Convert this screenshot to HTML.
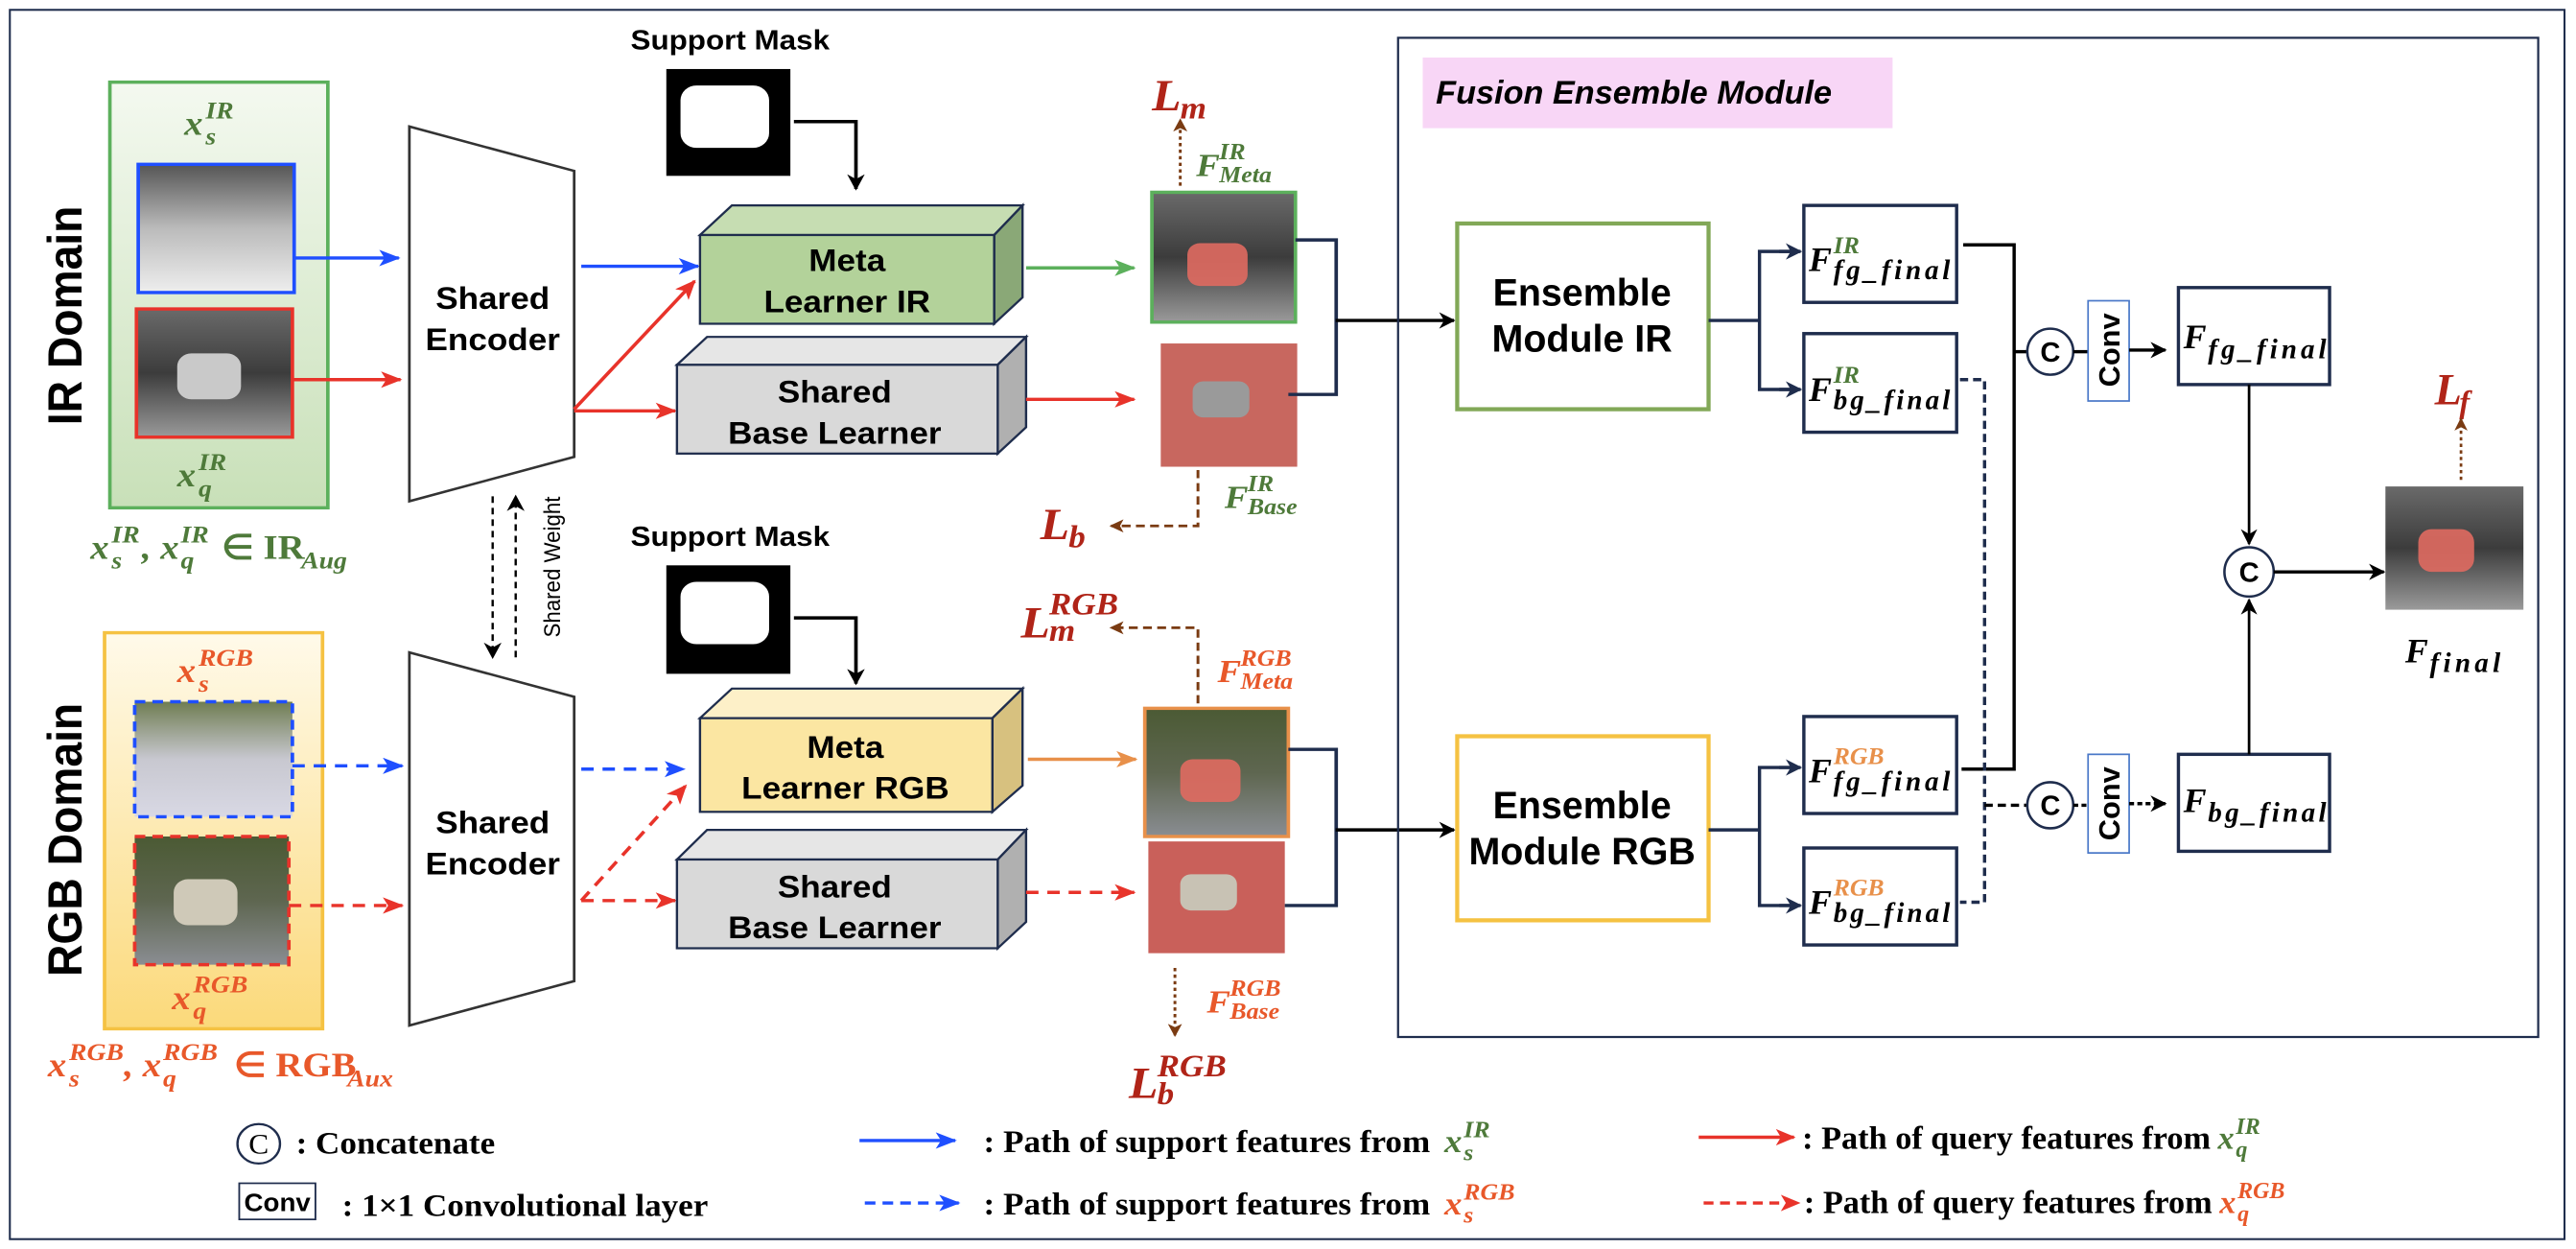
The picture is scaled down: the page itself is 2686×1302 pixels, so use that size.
<!DOCTYPE html>
<html><head><meta charset="utf-8"><style>html,body{margin:0;padding:0;background:#fff}svg{display:block}</style></head>
<body>
<svg xmlns="http://www.w3.org/2000/svg" width="2686" height="1302" viewBox="0 0 1568 760" preserveAspectRatio="none">
<defs>
<linearGradient id="gIR" x1="0" y1="0" x2="0" y2="1"><stop offset="0" stop-color="#f4f9f0"/><stop offset="1" stop-color="#c8e0b8"/></linearGradient>
<linearGradient id="gRGB" x1="0" y1="0" x2="0" y2="1"><stop offset="0" stop-color="#fffaea"/><stop offset="1" stop-color="#fbd97a"/></linearGradient>
<linearGradient id="imIR" x1="0" y1="0" x2="0" y2="1"><stop offset="0" stop-color="#6a6a6a"/><stop offset="0.5" stop-color="#3c3c3c"/><stop offset="1" stop-color="#9a9a9a"/></linearGradient>
<linearGradient id="imIRs" x1="0" y1="0" x2="0" y2="1"><stop offset="0" stop-color="#555"/><stop offset="0.5" stop-color="#bbb"/><stop offset="1" stop-color="#eee"/></linearGradient>
<linearGradient id="imRGB" x1="0" y1="0" x2="0" y2="1"><stop offset="0" stop-color="#4b5a34"/><stop offset="0.5" stop-color="#5e6650"/><stop offset="1" stop-color="#8a8d92"/></linearGradient>
<linearGradient id="imRGBs" x1="0" y1="0" x2="0" y2="1"><stop offset="0" stop-color="#6f7d52"/><stop offset="0.5" stop-color="#c8c8d0"/><stop offset="1" stop-color="#d8d8e4"/></linearGradient>
<marker id="aBk" markerWidth="10" markerHeight="10" refX="9" refY="5" orient="auto" markerUnits="userSpaceOnUse"><path d="M0,0 L10,5 L0,10 L3,5z" fill="#000"/></marker>
<marker id="aNv" markerWidth="10" markerHeight="10" refX="9" refY="5" orient="auto" markerUnits="userSpaceOnUse"><path d="M0,0 L10,5 L0,10 L3,5z" fill="#1f2d4d"/></marker>
<marker id="aBl" markerWidth="12" markerHeight="10" refX="11" refY="5" orient="auto" markerUnits="userSpaceOnUse"><path d="M0,0 L12,5 L0,10 L3,5z" fill="#1f4fff"/></marker>
<marker id="aRd" markerWidth="12" markerHeight="10" refX="11" refY="5" orient="auto" markerUnits="userSpaceOnUse"><path d="M0,0 L12,5 L0,10 L3,5z" fill="#e8332a"/></marker>
<marker id="aGr" markerWidth="12" markerHeight="10" refX="11" refY="5" orient="auto" markerUnits="userSpaceOnUse"><path d="M0,0 L12,5 L0,10 L3,5z" fill="#5cb05c"/></marker>
<marker id="aOr" markerWidth="12" markerHeight="10" refX="11" refY="5" orient="auto" markerUnits="userSpaceOnUse"><path d="M0,0 L12,5 L0,10 L3,5z" fill="#e8904a"/></marker>
<marker id="aBr" markerWidth="8" markerHeight="8" refX="7" refY="4" orient="auto" markerUnits="userSpaceOnUse"><path d="M0,0 L8,4 L0,8 L2,4z" fill="#7a3b12"/></marker>
</defs>
<rect x="0" y="0" width="1568" height="760" fill="#fff"/>
<rect x="6" y="6" width="1555" height="748" fill="none" stroke="#1f2d4d" stroke-width="1.2"/>

<g transform="scale(1.0787 1)">
<g font-family="Liberation Sans, sans-serif" font-weight="bold">
<text transform="translate(46,192) rotate(-90)" font-size="27" text-anchor="middle">IR Domain</text>
<text transform="translate(46,511) rotate(-90)" font-size="27" text-anchor="middle">RGB Domain</text>
</g>

<rect x="62" y="50" width="123" height="259" fill="url(#gIR)" stroke="#5cb05c" stroke-width="2"/>
<rect x="78" y="100" width="88" height="78" fill="url(#imIRs)" stroke="#1f4fff" stroke-width="2"/>
<rect x="77" y="188" width="88" height="78" fill="url(#imIR)" stroke="#e8332a" stroke-width="2"/>
<rect x="100" y="215" width="36" height="28" rx="8" fill="#c9c9c9"/>
<rect x="59" y="385" width="123" height="241" fill="url(#gRGB)" stroke="#f5c242" stroke-width="2"/>
<rect x="76" y="427" width="89" height="70" fill="url(#imRGBs)" stroke="#1f4fff" stroke-width="2" stroke-dasharray="6,4"/>
<rect x="76" y="509" width="87" height="78" fill="url(#imRGB)" stroke="#e8332a" stroke-width="2" stroke-dasharray="6,4"/>
<rect x="98" y="535" width="36" height="28" rx="8" fill="#cfc9b8"/>

<g font-family="Liberation Serif, serif" font-weight="bold" font-style="italic">
<g fill="#4e7a3a">
<text x="104" y="82" font-size="21">x</text><text x="116" y="72" font-size="15">IR</text><text x="116" y="88" font-size="15">s</text>
<text x="100" y="296" font-size="21">x</text><text x="112" y="286" font-size="15">IR</text><text x="112" y="302" font-size="15">q</text>
<text x="51" y="340" font-size="21">x</text><text x="63" y="330" font-size="15">IR</text><text x="63" y="346" font-size="15">s</text>
<text x="80" y="340" font-size="21">, x</text><text x="102" y="330" font-size="15">IR</text><text x="102" y="346" font-size="15">q</text>
<text x="125" y="340" font-size="21" font-style="normal">∈ IR</text><text x="170" y="346" font-size="15">Aug</text>
</g>
<g fill="#e8582a">
<text x="100" y="415" font-size="21">x</text><text x="112" y="405" font-size="15">RGB</text><text x="112" y="421" font-size="15">s</text>
<text x="97" y="614" font-size="21">x</text><text x="109" y="604" font-size="15">RGB</text><text x="109" y="620" font-size="15">q</text>
<text x="27" y="655" font-size="21">x</text><text x="39" y="645" font-size="15">RGB</text><text x="39" y="661" font-size="15">s</text>
<text x="70" y="655" font-size="21">, x</text><text x="92" y="645" font-size="15">RGB</text><text x="92" y="661" font-size="15">q</text>
<text x="132" y="655" font-size="21" font-style="normal">∈ RGB</text><text x="196" y="661" font-size="15">Aux</text>
</g>
</g>

<polygon points="231,77 324,104 324,278 231,305" fill="#fff" stroke="#333" stroke-width="1.5"/>
<polygon points="231,397 324,424 324,597 231,624" fill="#fff" stroke="#333" stroke-width="1.5"/>
<g font-family="Liberation Sans, sans-serif" font-weight="bold" font-size="19" text-anchor="middle">
<text x="278" y="188">Shared</text><text x="278" y="213">Encoder</text>
<text x="278" y="507">Shared</text><text x="278" y="532">Encoder</text>
</g>
<line x1="278" y1="302" x2="278" y2="400" stroke="#000" stroke-width="1.3" stroke-dasharray="4,3" marker-end="url(#aBk)"/>
<line x1="291" y1="400" x2="291" y2="302" stroke="#000" stroke-width="1.3" stroke-dasharray="4,3" marker-end="url(#aBk)"/>
<text transform="translate(316,345) rotate(-90)" font-family="Liberation Sans, sans-serif" font-size="13" text-anchor="middle">Shared Weight</text>

<line x1="166" y1="157" x2="225" y2="157" stroke="#1f4fff" stroke-width="2" marker-end="url(#aBl)"/>
<line x1="165" y1="231" x2="226" y2="231" stroke="#e8332a" stroke-width="2" marker-end="url(#aRd)"/>
<line x1="165" y1="466" x2="227" y2="466" stroke="#1f4fff" stroke-width="2" stroke-dasharray="7,5" marker-end="url(#aBl)"/>
<line x1="163" y1="551" x2="227" y2="551" stroke="#e8332a" stroke-width="2" stroke-dasharray="7,5" marker-end="url(#aRd)"/>
<line x1="328" y1="162" x2="394" y2="162" stroke="#1f4fff" stroke-width="2" marker-end="url(#aBl)"/>
<line x1="324" y1="249" x2="392" y2="171" stroke="#e8332a" stroke-width="2" marker-end="url(#aRd)"/>
<line x1="324" y1="250" x2="381" y2="250" stroke="#e8332a" stroke-width="2" marker-end="url(#aRd)"/>
<line x1="328" y1="468" x2="386" y2="468" stroke="#1f4fff" stroke-width="2" stroke-dasharray="7,5" marker-end="url(#aBl)"/>
<line x1="328" y1="548" x2="387" y2="478" stroke="#e8332a" stroke-width="2" stroke-dasharray="7,5" marker-end="url(#aRd)"/>
<line x1="328" y1="548" x2="381" y2="548" stroke="#e8332a" stroke-width="2" stroke-dasharray="7,5" marker-end="url(#aRd)"/>

<g stroke="#1f2d4d" stroke-width="1.3">
<polygon points="395,143 413,125 577,125 561,143" fill="#c6ddb2"/>
<polygon points="561,143 577,125 577,181 561,197" fill="#8aa877"/>
<rect x="395" y="143" width="166" height="54" fill="#b3d29a"/>
<polygon points="382,222 399,205 579,205 563,222" fill="#e6e6e6"/>
<polygon points="563,222 579,205 579,260 563,276" fill="#b0b0b0"/>
<rect x="382" y="222" width="181" height="54" fill="#d9d9d9"/>
<polygon points="395,437 413,419 577,419 560,437" fill="#fdf0c8"/>
<polygon points="560,437 577,419 577,478 560,494" fill="#d7c17f"/>
<rect x="395" y="437" width="165" height="57" fill="#fbe6a2"/>
<polygon points="382,523 399,505 579,505 563,523" fill="#e6e6e6"/>
<polygon points="563,523 579,505 579,561 563,577" fill="#b0b0b0"/>
<rect x="382" y="523" width="181" height="54" fill="#d9d9d9"/>
</g>
<g font-family="Liberation Sans, sans-serif" font-weight="bold" font-size="19" text-anchor="middle">
<text x="478" y="165">Meta</text><text x="478" y="190">Learner IR</text>
<text x="471" y="245">Shared</text><text x="471" y="270">Base Learner</text>
<text x="477" y="461">Meta</text><text x="477" y="486">Learner RGB</text>
<text x="471" y="546">Shared</text><text x="471" y="571">Base Learner</text>
<text x="412" y="30" font-size="17">Support Mask</text>
<text x="412" y="332" font-size="17">Support Mask</text>
</g>
<rect x="376" y="42" width="70" height="65" fill="#000"/>
<rect x="384" y="52" width="50" height="38" rx="9" fill="#fff"/>
<rect x="376" y="344" width="70" height="66" fill="#000"/>
<rect x="384" y="354" width="50" height="38" rx="9" fill="#fff"/>
<polyline points="448,74 483,74 483,115" fill="none" stroke="#000" stroke-width="2" marker-end="url(#aBk)"/>
<polyline points="448,376 483,376 483,416" fill="none" stroke="#000" stroke-width="2" marker-end="url(#aBk)"/>

<line x1="579" y1="163" x2="640" y2="163" stroke="#5cb05c" stroke-width="2" marker-end="url(#aGr)"/>
<line x1="579" y1="243" x2="640" y2="243" stroke="#e8332a" stroke-width="2" marker-end="url(#aRd)"/>
<line x1="580" y1="462" x2="641" y2="462" stroke="#e8904a" stroke-width="2" marker-end="url(#aOr)"/>
<line x1="579" y1="543" x2="640" y2="543" stroke="#e8332a" stroke-width="2" stroke-dasharray="7,5" marker-end="url(#aRd)"/>

<rect x="650" y="117" width="81" height="79" fill="url(#imIR)" stroke="#5cb05c" stroke-width="2"/>
<rect x="670" y="148" width="34" height="26" rx="7" fill="#e06a60" opacity="0.9"/>
<rect x="655" y="209" width="77" height="75" fill="#c8675f"/>
<rect x="673" y="232" width="32" height="22" rx="6" fill="#9a9a9a"/>
<rect x="646" y="431" width="81" height="78" fill="url(#imRGB)" stroke="#e8904a" stroke-width="2"/>
<rect x="666" y="462" width="34" height="26" rx="7" fill="#e06a60" opacity="0.9"/>
<rect x="648" y="512" width="77" height="68" fill="#c9605a"/>
<rect x="666" y="532" width="32" height="22" rx="6" fill="#c8c2b4"/>

<g fill="none" stroke="#1f2d4d" stroke-width="2">
<polyline points="731,146 754,146 754,240 727,240"/>
<polyline points="727,456 754,456 754,551 725,551"/>
</g>

<g stroke="#7a3b12" stroke-width="1.6" fill="none">
<line x1="666" y1="113" x2="666" y2="73" stroke-dasharray="2,2" marker-end="url(#aBr)"/>
<polyline points="676,286 676,320 627,320" stroke-dasharray="5,3" marker-end="url(#aBr)"/>
<polyline points="676,428 676,382 627,382" stroke-dasharray="5,3" marker-end="url(#aBr)"/>
<line x1="663" y1="589" x2="663" y2="630" stroke-dasharray="2,2" marker-end="url(#aBr)"/>
</g>

<g font-family="Liberation Serif, serif" font-weight="bold" font-style="italic">
<g fill="#b02418">
<text x="650" y="67" font-size="27">L</text><text x="666" y="72" font-size="19">m</text>
<text x="587" y="328" font-size="27">L</text><text x="603" y="333" font-size="19">b</text>
<text x="576" y="388" font-size="27">L</text><text x="592" y="390" font-size="19">m</text><text x="592" y="374" font-size="19">RGB</text>
<text x="637" y="668" font-size="27">L</text><text x="653" y="672" font-size="19">b</text><text x="653" y="655" font-size="19">RGB</text>
</g>
<g fill="#4e7a3a">
<text x="675" y="107" font-size="20">F</text><text x="688" y="97" font-size="14">IR</text><text x="688" y="111" font-size="14">Meta</text>
<text x="691" y="309" font-size="20">F</text><text x="704" y="299" font-size="14">IR</text><text x="704" y="313" font-size="14">Base</text>
</g>
<g fill="#e8582a">
<text x="687" y="415" font-size="20">F</text><text x="700" y="405" font-size="14">RGB</text><text x="700" y="419" font-size="14">Meta</text>
<text x="681" y="616" font-size="20">F</text><text x="694" y="606" font-size="14">RGB</text><text x="694" y="620" font-size="14">Base</text>
</g>
</g>

<circle cx="146" cy="696" r="12" fill="#fff" stroke="#1f2d4d" stroke-width="1.3"/>
<text x="146" y="702" font-family="Liberation Serif, serif" font-size="17" text-anchor="middle">C</text>
<rect x="135" y="720" width="43" height="22" fill="#fff" stroke="#1f2d4d" stroke-width="1"/>
<text x="156.5" y="737" font-family="Liberation Sans, sans-serif" font-weight="bold" font-size="15" text-anchor="middle">Conv</text>
<g font-family="Liberation Serif, serif" font-weight="bold" font-size="19">
<text x="167" y="702">: Concatenate</text>
<text x="193" y="740">: 1×1 Convolutional layer</text>
<text x="555" y="701">: Path of support features from</text>
<text x="555" y="739">: Path of support features from</text>
</g>
<g font-family="Liberation Serif, serif" font-weight="bold" font-style="italic">
<g fill="#4e7a3a"><text x="815" y="701" font-size="20">x</text><text x="826" y="692" font-size="14">IR</text><text x="826" y="706" font-size="14">s</text></g>
<g fill="#e8582a"><text x="815" y="739" font-size="20">x</text><text x="826" y="730" font-size="14">RGB</text><text x="826" y="744" font-size="14">s</text></g>
</g>
<line x1="485" y1="694" x2="539" y2="694" stroke="#1f4fff" stroke-width="2" marker-end="url(#aBl)"/>
<line x1="488" y1="732" x2="541" y2="732" stroke="#1f4fff" stroke-width="2" stroke-dasharray="6,4" marker-end="url(#aBl)"/>
</g>

<line x1="813" y1="195" x2="885" y2="195" stroke="#000" stroke-width="2" marker-end="url(#aBk)"/>
<line x1="813" y1="505" x2="885" y2="505" stroke="#000" stroke-width="2" marker-end="url(#aBk)"/>

<rect x="851" y="23" width="694" height="608" fill="none" stroke="#1f2d4d" stroke-width="1.3"/>
<rect x="866" y="35" width="286" height="43" fill="#f8d6f6"/>
<text x="874" y="63" font-family="Liberation Sans, sans-serif" font-weight="bold" font-style="italic" font-size="20">Fusion Ensemble Module</text>
<rect x="887" y="136" width="153" height="113" fill="#fff" stroke="#82a857" stroke-width="2.5"/>
<rect x="887" y="448" width="153" height="112" fill="#fff" stroke="#f5c242" stroke-width="2.5"/>
<g font-family="Liberation Sans, sans-serif" font-weight="bold" font-size="23" text-anchor="middle">
<text x="963" y="186">Ensemble</text><text x="963" y="214">Module IR</text>
<text x="963" y="498">Ensemble</text><text x="963" y="526">Module RGB</text>
</g>
<g fill="none" stroke="#1f2d4d" stroke-width="2">
<line x1="1040" y1="195" x2="1071" y2="195"/>
<polyline points="1094,153 1071,153 1071,237 1094,237"/>
<line x1="1040" y1="505" x2="1071" y2="505"/>
<polyline points="1094,467 1071,467 1071,551 1094,551"/>
</g>
<g stroke="#1f2d4d" stroke-width="2">
<line x1="1083" y1="153" x2="1096" y2="153" marker-end="url(#aNv)"/>
<line x1="1083" y1="237" x2="1096" y2="237" marker-end="url(#aNv)"/>
<line x1="1083" y1="467" x2="1096" y2="467" marker-end="url(#aNv)"/>
<line x1="1083" y1="551" x2="1096" y2="551" marker-end="url(#aNv)"/>
</g>
<g fill="#fff" stroke="#1f2d4d" stroke-width="2">
<rect x="1098" y="125" width="93" height="59"/>
<rect x="1098" y="203" width="93" height="60"/>
<rect x="1098" y="436" width="93" height="59"/>
<rect x="1098" y="516" width="93" height="59"/>
<rect x="1326" y="175" width="92" height="59"/>
<rect x="1326" y="459" width="92" height="59"/>
</g>
<g font-family="Liberation Serif, serif" font-weight="bold" font-style="italic">
<text x="1101" y="165" font-size="21">F</text><text x="1116" y="154" font-size="15" fill="#4e7a3a">IR</text><text x="1116" y="170" font-size="17" textLength="71">fg_final</text>
<text x="1101" y="244" font-size="21">F</text><text x="1116" y="233" font-size="15" fill="#4e7a3a">IR</text><text x="1116" y="249" font-size="17" textLength="71">bg_final</text>
<text x="1101" y="476" font-size="21">F</text><text x="1116" y="465" font-size="15" fill="#e8904a">RGB</text><text x="1116" y="481" font-size="17" textLength="71">fg_final</text>
<text x="1101" y="556" font-size="21">F</text><text x="1116" y="545" font-size="15" fill="#e8904a">RGB</text><text x="1116" y="561" font-size="17" textLength="71">bg_final</text>
<text x="1329" y="212" font-size="21">F</text><text x="1344" y="218" font-size="17" textLength="72">fg_final</text>
<text x="1329" y="494" font-size="21">F</text><text x="1344" y="500" font-size="17" textLength="72">bg_final</text>
<text x="1464" y="403" font-size="21">F</text><text x="1479" y="409" font-size="17" textLength="43">final</text>
<text x="1482" y="246" font-size="27" fill="#b02418">L</text><text x="1497" y="251" font-size="19" fill="#b02418">f</text>
</g>
<line x1="1498" y1="292" x2="1498" y2="255" stroke="#7a3b12" stroke-width="1.6" stroke-dasharray="2,2" marker-end="url(#aBr)"/>
<polyline points="1195,149 1226,149 1226,468 1194,468" fill="none" stroke="#000" stroke-width="2"/>
<line x1="1226" y1="214" x2="1234" y2="214" stroke="#000" stroke-width="2"/>
<polyline points="1193,231 1208,231 1208,549 1193,549" fill="none" stroke="#1f2d4d" stroke-width="2" stroke-dasharray="5,3"/>
<line x1="1208" y1="490" x2="1234" y2="490" stroke="#000" stroke-width="2" stroke-dasharray="5,3"/>
<g fill="#fff" stroke="#1f2d4d" stroke-width="1.5">
<circle cx="1248" cy="214" r="14"/><circle cx="1248" cy="490" r="14"/><circle cx="1369" cy="348" r="15"/>
</g>
<g font-family="Liberation Sans, sans-serif" font-weight="bold" font-size="17" text-anchor="middle">
<text x="1248" y="220">C</text><text x="1248" y="496">C</text><text x="1369" y="354">C</text>
</g>
<line x1="1262" y1="214" x2="1271" y2="214" stroke="#000" stroke-width="2"/>
<line x1="1262" y1="490" x2="1271" y2="490" stroke="#000" stroke-width="2" stroke-dasharray="3,2"/>
<rect x="1271" y="183" width="25" height="61" fill="#fff" stroke="#4a78c8" stroke-width="1"/>
<rect x="1271" y="459" width="25" height="60" fill="#fff" stroke="#4a78c8" stroke-width="1"/>
<g font-family="Liberation Sans, sans-serif" font-weight="bold" font-size="18" text-anchor="middle">
<text transform="translate(1290,213) rotate(-90)">Conv</text>
<text transform="translate(1290,489) rotate(-90)">Conv</text>
</g>
<line x1="1296" y1="213" x2="1318" y2="213" stroke="#000" stroke-width="2" marker-end="url(#aBk)"/>
<line x1="1296" y1="489" x2="1318" y2="489" stroke="#000" stroke-width="2" stroke-dasharray="3,2" marker-end="url(#aBk)"/>
<line x1="1369" y1="234" x2="1369" y2="331" stroke="#000" stroke-width="1.6" marker-end="url(#aBk)"/>
<line x1="1369" y1="459" x2="1369" y2="365" stroke="#000" stroke-width="1.6" marker-end="url(#aBk)"/>
<line x1="1384" y1="348" x2="1451" y2="348" stroke="#000" stroke-width="2" marker-end="url(#aBk)"/>
<rect x="1452" y="296" width="84" height="75" fill="url(#imIR)"/>
<rect x="1472" y="322" width="34" height="26" rx="8" fill="#e06a60" opacity="0.9"/>

<g font-family="Liberation Serif, serif" font-weight="bold" font-size="20">
<text x="1097" y="699">: Path of query features from</text>
<text x="1098" y="738">: Path of query features from</text>
</g>
<g font-family="Liberation Serif, serif" font-weight="bold" font-style="italic">
<g fill="#4e7a3a"><text x="1350" y="699" font-size="20">x</text><text x="1361" y="690" font-size="14">IR</text><text x="1361" y="704" font-size="14">q</text></g>
<g fill="#e8582a"><text x="1351" y="738" font-size="20">x</text><text x="1362" y="729" font-size="14">RGB</text><text x="1362" y="743" font-size="14">q</text></g>
</g>
<line x1="1034" y1="692" x2="1092" y2="692" stroke="#e8332a" stroke-width="2" marker-end="url(#aRd)"/>
<line x1="1037" y1="732" x2="1095" y2="732" stroke="#e8332a" stroke-width="2" stroke-dasharray="6,4" marker-end="url(#aRd)"/>
</svg>
</body></html>
